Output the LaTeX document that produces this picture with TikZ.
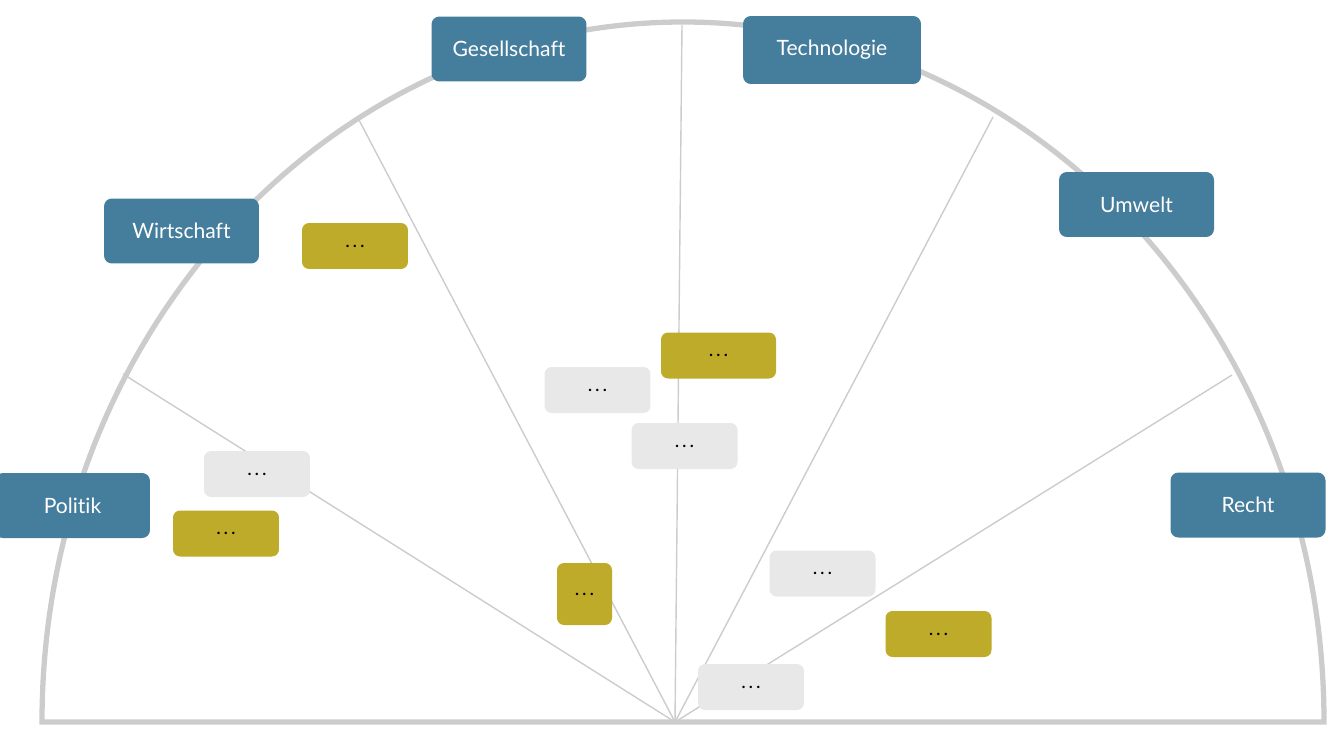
\documentclass[tikz,border=0pt]{standalone}
\usepackage{fontspec}
\setmainfont{Lato}[Ligatures={NoCommon}]
\usepackage{tikz}
\usetikzlibrary{positioning}

\definecolor{themeblue}{HTML}{457D9C}
\definecolor{themegold}{HTML}{BFAB2A}
\definecolor{boxgray}{HTML}{E8E8E8}
\definecolor{linegray}{HTML}{CCCCCC}

\newcommand{\dotdotdot}{.\hspace{1.6pt}.\hspace{1.6pt}.}

\begin{document}
\begin{tikzpicture}[x=0.02cm, y=-0.02cm, font=\fontsize{12}{14}\selectfont,
    area/.style={fill=themeblue, text=white, rounded corners=4.5pt, minimum width=3.1cm, minimum height=1.3cm},
    itemgold/.style={fill=themegold, text=black, rounded corners=4pt, minimum width=2.12cm, minimum height=0.92cm, font=\fontsize{11}{13}\selectfont},
    itemgray/.style={fill=boxgray, text=black, rounded corners=4pt, minimum width=2.12cm, minimum height=0.92cm, font=\fontsize{11}{13}\selectfont},
    spoke/.style={draw=linegray, line width=0.8pt}]
    \useasboundingbox (0,0) rectangle (1338,730);

    % half circle and the spokes
    \draw[linegray, line width=3pt] (42,722) arc[start angle=180, end angle=360, x radius=641, y radius=700] -- cycle;
    \coordinate (hub) at (675,722);
    \coordinate (s1) at (123,374);
    \coordinate (s2) at (359,120);
    \coordinate (s3) at (682,25);
    \coordinate (s4) at (993,117);
    \coordinate (s5) at (1232,375);
    \foreach \s in {s1,s2,s3,s4,s5}
        \draw[spoke] (hub) -- (\s);

    % areas
    \node[area] (politik) at (72.5,505.5) {Politik};
    \node[area] (wirtschaft) at (181.5,231) {Wirtschaft};
    \node[area] (gesellschaft) at (509,49) {Gesellschaft};
    \node[area, minimum width=3.56cm, minimum height=1.36cm] (technologie) at (832,50) {Technologie};
    \node[area] (umwelt) at (1136.5,204.5) {Umwelt};
    \node[area] (recht) at (1248,505) {Recht};

    % items
    \node[itemgold] (gold1) at (355,246) {\dotdotdot};
    \node[itemgold, minimum width=2.3cm] (gold2) at (718.5,355.5) {\dotdotdot};
    \node[itemgold] (gold3) at (226,533.5) {\dotdotdot};
    \node[itemgold, minimum width=1.1cm, minimum height=1.24cm] (gold4) at (584.5,594) {\dotdotdot};
    \node[itemgold] (gold5) at (938.5,634) {\dotdotdot};

    \node[itemgray] (gray1) at (597.5,390) {\dotdotdot};
    \node[itemgray] (gray2) at (684.5,446) {\dotdotdot};
    \node[itemgray] (gray3) at (257,474) {\dotdotdot};
    \node[itemgray] (gray4) at (822.5,573.5) {\dotdotdot};
    \node[itemgray] (gray5) at (751,687) {\dotdotdot};
\end{tikzpicture}
\end{document}
